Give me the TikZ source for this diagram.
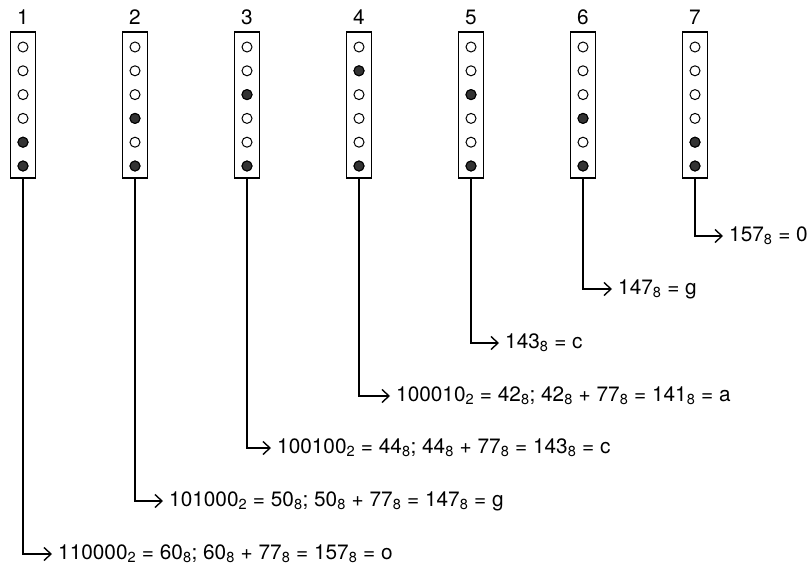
\documentclass[tikz,border=0pt]{standalone}
\usepackage{fontspec}
\setmainfont{TeX Gyre Heros}
\usetikzlibrary{arrows.meta, positioning}
\newcommand{\sub}[1]{\textsubscript{#1}}

\begin{document}
\begin{tikzpicture}[x=1pt, y=-1pt,
    font=\fontsize{20.8}{24}\selectfont,
    column/.style={draw, line width=1.6pt, minimum width=25pt, minimum height=146pt, inner sep=0pt},
    hole/.style={circle, draw, line width=1pt, minimum size=10pt, inner sep=0pt},
    punched/.style={hole, fill=black!80},
    result/.style={anchor=west, inner sep=0pt},
    lead/.style={line width=1.4pt, -{Straight Barb[length=7pt, width=13pt, line width=1.4pt]}}]
    \useasboundingbox (0,0) rectangle (808,567);

    % Draw the punched tape columns with their numbers
    \foreach \c/\a in {1/5, 2/4, 3/3, 4/2, 5/3, 6/4, 7/5} {
        \node[column] (col\c) at ({23+112*(\c-1)}, 105) {};
        \node at ({23+112*(\c-1)}, 17) {\c};
        \foreach \r in {1,...,6} {
            \node[hole] at ({23+112*(\c-1)}, {47+23.8*(\r-1)}) {};
        }
        \node[punched] at ({23+112*(\c-1)}, {47+23.8*(\a-1)}) {};
        \node[punched] at ({23+112*(\c-1)}, {47+23.8*5}) {};
    }

    % Decoded characters
    \node[result] (res7) at (729, 236) {157\sub{8} = 0};
    \node[result] (res6) at (618, 289) {147\sub{8} = g};
    \node[result] (res5) at (505, 343) {143\sub{8} = c};
    \node[result] (res4) at (396, 396) {100010\sub{2} = 42\sub{8}; 42\sub{8} + 77\sub{8} = 141\sub{8} = a};
    \node[result] (res3) at (277, 448) {100100\sub{2} = 44\sub{8}; 44\sub{8} + 77\sub{8} = 143\sub{8} = c};
    \node[result] (res2) at (169, 501) {101000\sub{2} = 50\sub{8}; 50\sub{8} + 77\sub{8} = 147\sub{8} = g};
    \node[result] (res1) at (58, 554) {110000\sub{2} = 60\sub{8}; 60\sub{8} + 77\sub{8} = 157\sub{8} = o};

    % Leads from each column to its result
    \foreach \c in {1,...,7} {
        \draw[lead] (col\c.south) |- ([xshift=-6pt]res\c.west);
    }
\end{tikzpicture}
\end{document}
